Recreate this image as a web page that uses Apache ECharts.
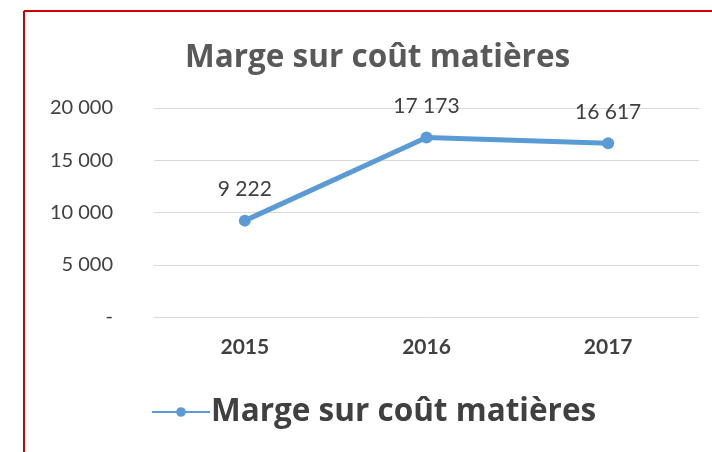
<!DOCTYPE html>
<html style="height: 100%">
<head>
<meta charset="utf-8">
<script src="https://cdn.jsdelivr.net/npm/echarts@6/dist/echarts.min.js"></script>
</head>
<body style="height: 100%; margin: 0; background: #fff">
<div id="container" style="width: 712px; height: 452px"></div>
<script type="text/javascript">
var years = ['2015', '2016', '2017'];
var marge = [9222, 17173, 16617];
var seriesName = 'Marge sur coût matières';

function fmt(v) {
    if (v === 0) return '-';
    return String(v).replace(/\B(?=(\d{3})+(?!\d))/g, ' ');
}

var chart = echarts.init(document.getElementById('container'));
var option = {
    animation: false,
    textStyle: { fontFamily: 'Lato' },
    title: {
        text: seriesName,
        left: 180,
        top: 37,
        textStyle: { fontSize: 31.5, fontWeight: 'bold', color: '#595959', fontFamily: 'Open Sans' }
    },
    legend: {
        data: [seriesName],
        top: 391,
        left: 146,
        itemWidth: 58,
        itemHeight: 12,
        itemGap: 4,
        textStyle: { fontSize: 31.5, fontWeight: 'bold', color: '#404040', fontFamily: 'Open Sans', padding: [0, 0, 0, -4] }
    },
    grid: { left: 154, right: 13, top: 108, bottom: 135 },
    xAxis: {
        type: 'category',
        data: years,
        axisLine: { show: false },
        axisTick: { show: false },
        axisLabel: { fontSize: 21, fontWeight: 'bold', color: '#404040', margin: 20 }
    },
    yAxis: {
        type: 'value',
        min: 0,
        max: 20000,
        interval: 5000,
        axisLabel: { fontSize: 20, color: '#404040', margin: 41, formatter: fmt },
        splitLine: { lineStyle: { color: '#d9d9d9', width: 1 } }
    },
    series: [{
        name: seriesName,
        type: 'line',
        data: marge,
        symbol: 'circle',
        symbolSize: 12,
        itemStyle: { color: '#5b9bd5' },
        lineStyle: { width: 5, color: '#5b9bd5' },
        label: {
            show: true,
            position: 'top',
            distance: 15,
            fontSize: 21,
            color: '#404040',
            formatter: function (p) { return fmt(p.value); }
        }
    }],
    graphic: [
        { type: 'line', shape: { x1: 24, y1: 11, x2: 712, y2: 11 }, style: { stroke: '#d00000', lineWidth: 2 } },
        { type: 'line', shape: { x1: 24, y1: 11, x2: 24, y2: 452 }, style: { stroke: '#d00000', lineWidth: 2 } }
    ]
};
chart.setOption(option);
window.onresize = function () { chart.resize(); };
</script>
</body>
</html>
